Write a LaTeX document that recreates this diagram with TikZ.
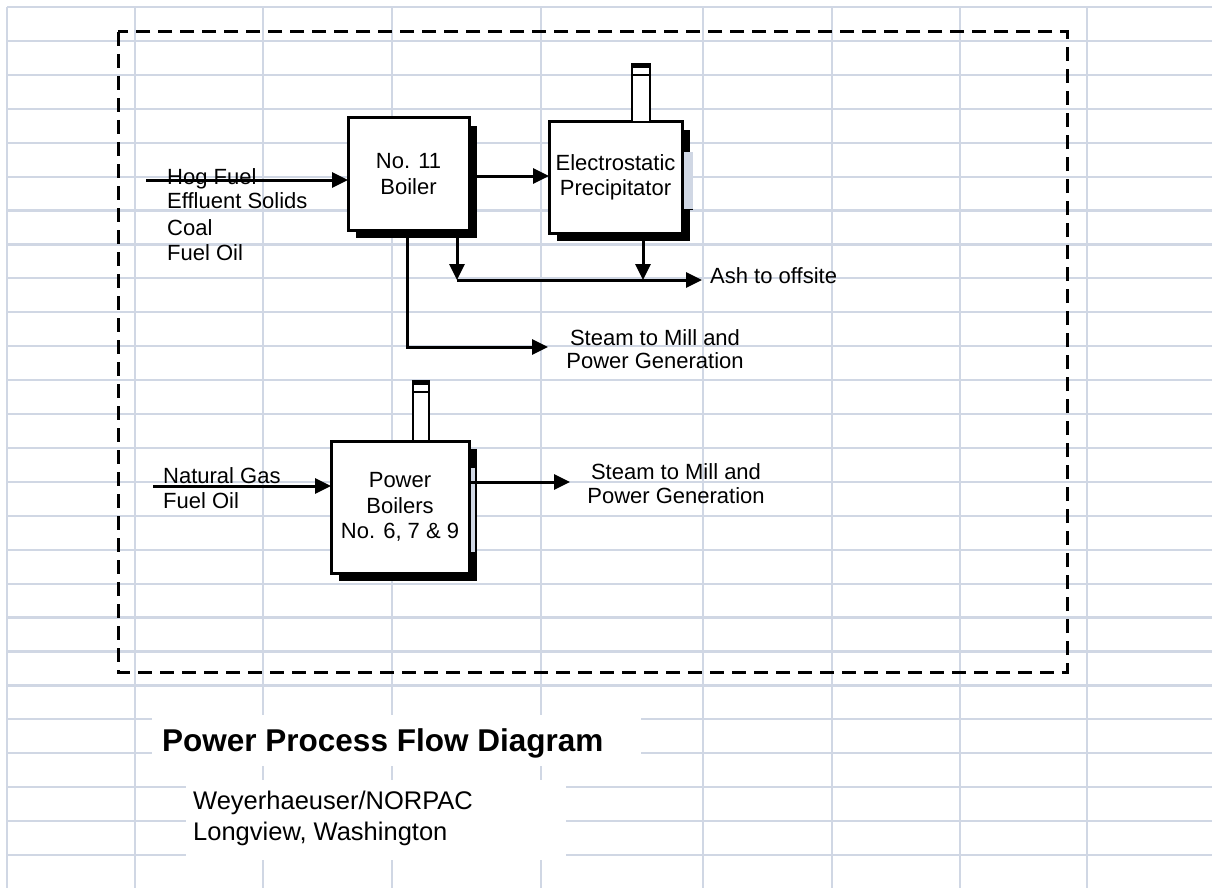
\documentclass[tikz,border=0pt]{standalone}
\usepackage{fontspec}
\setmainfont{Liberation Sans}
\usetikzlibrary{arrows.meta,shadows}
\definecolor{gridc}{RGB}{208,215,228}
\begin{document}
\begin{tikzpicture}[x=1pt,y=-1pt,
  gridline/.style={draw=gridc,line width=2.2pt},
  box/.style={draw,line width=3pt,fill=white,inner sep=0pt,outer sep=0pt,align=center,
    font=\fontsize{22}{25.5}\selectfont,
    general shadow={fill=black,shadow xshift=8pt,shadow yshift=-8pt}},
  lbl/.style={anchor=base west,inner sep=0pt,font=\fontsize{22}{25}\selectfont},
  clbl/.style={anchor=base,inner sep=0pt,font=\fontsize{22}{25}\selectfont},
  arr/.style={line width=3pt,-{Triangle[length=16pt,width=15pt]}},
  stackbox/.style={draw,line width=2.5pt,fill=white,inner sep=0pt,outer sep=0pt}
]
\useasboundingbox (0,0) rectangle (1212,888);
\fill[white] (0,0) rectangle (1212,888);
% spreadsheet grid
\foreach \x in {7,135,263,392,541,703,832,960,1087}
  \draw[gridline] (\x,7) -- (\x,888);
\foreach \k in {0,...,25}
  \draw[gridline] (7,{7+33.92*\k}) -- (1212,{7+33.92*\k});
% white areas behind title texts
\fill[white] (152,715) rectangle (641,766);
\fill[white] (186,780) rectangle (566,860);
% dashed boundary
\draw[line width=3pt,dash pattern=on 14pt off 8pt] (118,32) rectangle (1067,672);
% boxes
\node[box,minimum width=121pt,minimum height=112pt] (boiler) at (408.5,174) {No. 11\\Boiler};
\node[box,minimum width=133pt,minimum height=111pt] (esp) at (615.5,177.5) {Electrostatic\\Precipitator};
\node[box,minimum width=138pt,minimum height=132pt] (pb) at (400,507) {Power\\Boilers\\No. 6, 7 \& 9};
% light strips on shadows
\fill[gridc] (684,152) rectangle (693,209);
\draw[line width=1pt] (684,209) -- (693,209);
\fill[gridc] (471,468) rectangle (474.5,552);
% stacks
\node[stackbox,minimum width=18pt,minimum height=58pt] (espstack) at (641,93) {};
\fill (espstack.north west) rectangle ([yshift=-4pt]espstack.north east);
\draw[line width=1.5pt] ([yshift=-11pt]espstack.north west) -- ([yshift=-11pt]espstack.north east);
\node[stackbox,minimum width=16pt,minimum height=60pt] (pbstack) at (421,411) {};
\fill (pbstack.north west) rectangle ([yshift=-4pt]pbstack.north east);
\draw[line width=1.5pt] ([yshift=-11pt]pbstack.north west) -- ([yshift=-11pt]pbstack.north east);
% connectors
\coordinate (hogin) at (146,180);
\draw[arr] (hogin) -- (hogin -| boiler.west);
\coordinate (b2e) at (0,176);
\draw[arr] (boiler.east |- b2e) -- (esp.west |- b2e);
\coordinate (ashA) at (457,280);
\coordinate (ashB) at (643,280);
\coordinate (ashC) at (702,280);
\draw[arr] (boiler.south -| ashA) -- (ashA);
\draw[arr] (esp.south -| ashB) -- (ashB);
\draw[arr] (ashA) -- (ashC);
\coordinate (stmA) at (407,0);
\coordinate (stm1) at (548,347);
\draw[arr] (boiler.south -| stmA) |- (stm1);
\coordinate (ngin) at (153,486);
\draw[arr] (ngin) -- (ngin -| pb.west);
\coordinate (pbo) at (570,482);
\draw[arr] (pb.east |- pbo) -- (pbo);
% labels
\node[lbl] (l1) at (167,184) {Hog Fuel};
\node[lbl] (l2) at (167,208) {Effluent Solids};
\node[lbl] (l3) at (167,235) {Coal};
\node[lbl] (l4) at (167,260) {Fuel Oil};
\node[lbl] (ash) at (710,283) {Ash to offsite};
\node[clbl] (s1a) at (655,345) {Steam to Mill and};
\node[clbl] (s1b) at (655,368) {Power Generation};
\node[lbl] (n1) at (163,483) {Natural Gas};
\node[lbl] (n2) at (163,508) {Fuel Oil};
\node[clbl] (s2a) at (676,479) {Steam to Mill and};
\node[clbl] (s2b) at (676,503) {Power Generation};
% title
\node[anchor=base west,inner sep=0pt,font=\fontsize{31.5}{36}\selectfont\bfseries] (title) at (162,751) {Power Process Flow Diagram};
\node[anchor=base west,inner sep=0pt,font=\fontsize{25.5}{30}\selectfont] (sub1) at (193,809) {Weyerhaeuser/NORPAC};
\node[anchor=base west,inner sep=0pt,font=\fontsize{25.5}{30}\selectfont] (sub2) at (193,840) {Longview, Washington};
\end{tikzpicture}
\end{document}
